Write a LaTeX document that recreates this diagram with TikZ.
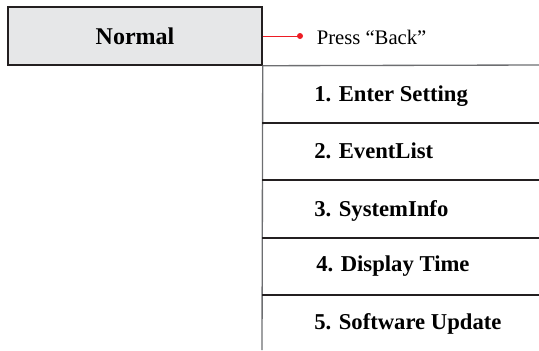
\documentclass[tikz,border=0pt]{standalone}
\usepackage{fontspec}
\setmainfont{Liberation Serif}
\usetikzlibrary{positioning}
\definecolor{boxgray}{HTML}{E6E7E8}
\definecolor{ink}{HTML}{231F20}
\definecolor{rulegray}{HTML}{6D6E71}
\definecolor{backred}{HTML}{ED1C24}

\begin{document}
\begin{tikzpicture}[
  x=0.75pt, y=-0.75pt,
  statebox/.style={draw=ink, line width=1.1pt, fill=boxgray, inner sep=0pt,
                   minimum width=190.5pt, minimum height=43.5pt,
                   font=\fontsize{18}{21}\selectfont\bfseries},
  menuitem/.style={anchor=base west, inner sep=0pt,
                   font=\fontsize{17}{20}\selectfont\bfseries},
  sep/.style={draw=ink, line width=1pt},
  trunk/.style={draw=rulegray, line width=1pt},
  backlink/.style={draw=backred, line width=0.7pt}
]
\useasboundingbox (0,0) rectangle (539,350);

\node[statebox] (normal) at (135,36) {};
\node[anchor=base, inner sep=0pt, font=\fontsize{18}{21}\selectfont\bfseries]
  (normaltxt) at (135,44.3) {Normal};

\coordinate (trunkend) at (262,350);
\coordinate (edge) at (539,65);

\node[circle, fill=backred, inner sep=0pt, minimum size=4.5pt] (dot) at (300,36) {};
\node[anchor=base west, inner sep=0pt, font=\fontsize{15.5}{18}\selectfont]
  (press) at (316.5,44) {Press “Back”};

\node[menuitem] (item1) at (314,101.7) {1. Enter Setting};
\node[menuitem] (item2) at (314,158)   {2. EventList};
\node[menuitem] (item3) at (314,216)   {3. SystemInfo};
\node[menuitem] (item4) at (316,271.7) {4. Display Time};
\node[menuitem] (item5) at (314,329.3) {5. Software Update};

% menu column
\draw[trunk] (normal.south east) -- (trunkend);
\draw[trunk] (normal.south east) -- (edge);
\foreach \y in {123,180,238,295}
  \draw[sep] (262,\y) -- (539,\y);

% back link
\draw[backlink] (normal.east) -- (dot.center);
\end{tikzpicture}
\end{document}
